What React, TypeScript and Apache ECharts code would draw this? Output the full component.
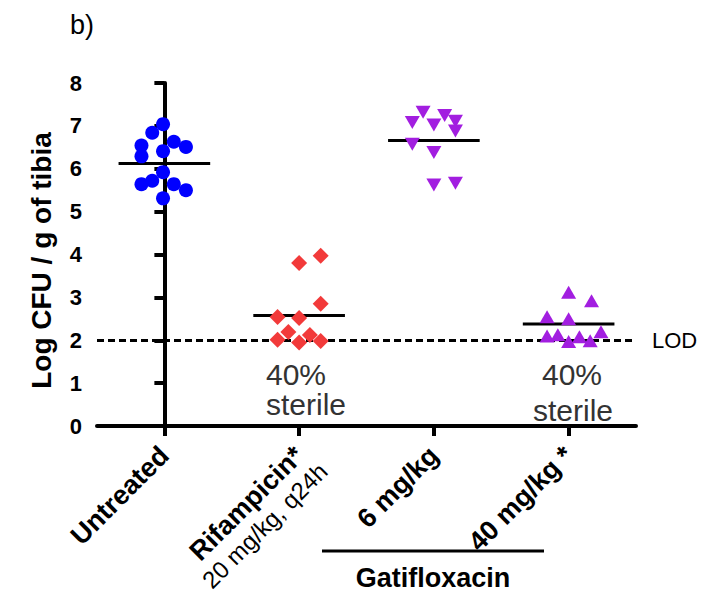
import React, { useEffect, useRef } from "react";
import * as echarts from "echarts";

// ---- Data ----
const categories = ["Untreated", "Rifampicin", "6 mg/kg", "40 mg/kg"];
const categoryLabels = ["Untreated", "Rifampicin*", "6 mg/kg", "40 mg/kg *"];
const categorySubLabels = ["", "20 mg/kg, q24h", "", ""];
const yTicks = [0, 1, 2, 3, 4, 5, 6, 7, 8];

// x = category index + horizontal jitter, y = log CFU
const untreatedX = [-0.01, -0.09, 0.07, 0.16, -0.17, -0.01, -0.17, -0.01, -0.09, -0.17, 0.07, 0.16, -0.01];
const untreatedY = [7.04, 6.84, 6.63, 6.51, 6.54, 6.41, 6.29, 5.92, 5.72, 5.64, 5.64, 5.5, 5.31];

const rifampicinX = [1.0, 1.16, 1.16, 0.84, 1.0, 0.92, 1.08, 0.84, 1.0, 1.16];
const rifampicinY = [3.8, 3.97, 2.85, 2.54, 2.52, 2.19, 2.12, 2.01, 1.95, 1.98];

const gati6X = [1.92, 2.08, 1.84, 2.0, 2.16, 2.16, 1.84, 2.0, 2.0, 2.16];
const gati6Y = [7.32, 7.24, 7.08, 7.02, 7.11, 6.88, 6.57, 6.38, 5.62, 5.66];

const gati40X = [3.0, 3.17, 2.84, 3.0, 3.24, 2.84, 2.92, 3.0, 3.08, 3.16];
const gati40Y = [3.12, 2.92, 2.55, 2.5, 2.2, 2.1, 2.13, 1.97, 2.08, 1.99];

const groupMeans = [6.12, 2.58, 6.66, 2.38];
const lodValue = 2;

const FONT = "'Liberation Sans', Arial, Helvetica, sans-serif";

const zip = (xs: number[], ys: number[]) => xs.map((x, i) => [x, ys[i]]);

export default function App() {
  const ref = useRef<HTMLDivElement>(null);

  useEffect(() => {
    if (!ref.current) return;
    const chart = echarts.init(ref.current, null, { renderer: "svg" });

    const option: any = {
      animation: false,
      backgroundColor: "#ffffff",
      textStyle: { fontFamily: FONT },
      grid: { left: 97, right: 71, top: 83, bottom: 168, containLabel: false, outerBoundsMode: "none" },
      xAxis: [
        {
          type: "category",
          data: categories,
          position: "bottom",
          boundaryGap: true,
          axisLine: { show: true, lineStyle: { color: "#000", width: 4 } },
          axisTick: { show: true, alignWithLabel: true, length: 10, lineStyle: { color: "#000", width: 4 } },
          splitLine: { show: false },
          axisLabel: {
            interval: 0,
            rotate: 45,
            margin: 25,
            color: "#000",
            fontFamily: FONT,
            fontSize: 27,
            fontWeight: "bold",
            lineHeight: 28,
            formatter: (v: string, idx: number) => categoryLabels[idx],
          },
        },
        { type: "value", min: -0.5, max: 3.5, show: false, position: "top" },
        {
          type: "category",
          data: categories,
          position: "bottom",
          offset: 0,
          boundaryGap: true,
          axisLine: { show: false },
          axisTick: { show: false },
          splitLine: { show: false },
          axisLabel: {
            interval: 0,
            rotate: 45,
            margin: 17,
            color: "#000",
            fontFamily: FONT,
            formatter: (v: string, idx: number) => (categorySubLabels[idx] ? `{n|${categorySubLabels[idx]}}` : ""),
            rich: {
              n: { fontSize: 24, fontWeight: "normal", color: "#000", fontFamily: FONT, lineHeight: 26, padding: [68, 0, 0, 0] },
            },
          },
        },
      ],
      yAxis: {
        type: "value",
        min: yTicks[0],
        max: yTicks[yTicks.length - 1],
        interval: 1,
        axisLine: { show: true, lineStyle: { color: "#000", width: 4 } },
        axisTick: { show: true, length: 10, lineStyle: { color: "#000", width: 4 } },
        splitLine: { show: false },
        axisLabel: { fontSize: 22, fontWeight: "bold", color: "#000", margin: 15, fontFamily: FONT },
        name: "Log CFU / g of tibia",
        nameLocation: "middle",
        nameGap: 42,
        nameTextStyle: { fontSize: 28, fontWeight: "bold", color: "#000", fontFamily: FONT, padding: [0, 12, 0, 0] },
      },
      series: [
        {
          type: "custom",
          xAxisIndex: 1,
          yAxisIndex: 0,
          z: 2,
          data: groupMeans.map((m, i) => [i, m]),
          renderItem: (params: any, api: any) => {
            const i = api.value(0);
            const m = api.value(1);
            const p1 = api.coord([i - 0.34, m]);
            const p2 = api.coord([i + 0.34, m]);
            return {
              type: "line",
              shape: { x1: p1[0], y1: p1[1], x2: p2[0], y2: p2[1] },
              style: { stroke: "#000", lineWidth: 3 },
            };
          },
          markLine: {
            silent: true,
            symbol: "none",
            data: [{ yAxis: lodValue }],
            lineStyle: { color: "#000", width: 3, type: [7, 4] },
            label: {
              show: true,
              position: "end",
              formatter: "LOD",
              fontSize: 22,
              color: "#000",
              fontFamily: FONT,
              distance: 16,
            },
          },
        },
        {
          type: "scatter",
          name: categories[0],
          xAxisIndex: 1,
          yAxisIndex: 0,
          z: 5,
          symbol: "circle",
          symbolSize: 14,
          itemStyle: { color: "#0000ff", opacity: 1 },
          data: zip(untreatedX, untreatedY),
        },
        {
          type: "scatter",
          name: categories[1],
          xAxisIndex: 1,
          yAxisIndex: 0,
          z: 5,
          symbol: "diamond",
          symbolSize: [16, 16],
          itemStyle: { color: "#f23a3a", opacity: 1 },
          data: zip(rifampicinX, rifampicinY),
        },
        {
          type: "scatter",
          name: categories[2],
          xAxisIndex: 1,
          yAxisIndex: 0,
          z: 5,
          symbol: "triangle",
          symbolRotate: 180,
          symbolSize: [15, 13],
          itemStyle: { color: "#a21ee0", opacity: 1 },
          data: zip(gati6X, gati6Y),
        },
        {
          type: "scatter",
          name: categories[3],
          xAxisIndex: 1,
          yAxisIndex: 0,
          z: 5,
          symbol: "triangle",
          symbolSize: [15, 13],
          itemStyle: { color: "#a21ee0", opacity: 1 },
          data: zip(gati40X, gati40Y),
        },
      ],
      graphic: [
        {
          type: "text",
          left: 70,
          top: 11,
          style: { text: "b)", fontSize: 27, fill: "#000", fontFamily: FONT },
        },
        {
          type: "text",
          x: 266,
          y: 374,
          style: { text: "40%", fontSize: 30, fill: "#333", fontFamily: FONT, align: "left", verticalAlign: "middle" },
        },
        {
          type: "text",
          x: 266,
          y: 404,
          style: { text: "sterile", fontSize: 30, fill: "#333", fontFamily: FONT, align: "left", verticalAlign: "middle" },
        },
        {
          type: "text",
          x: 572,
          y: 374,
          style: { text: "40%", fontSize: 30, fill: "#333", fontFamily: FONT, align: "center", verticalAlign: "middle" },
        },
        {
          type: "text",
          x: 573,
          y: 410,
          style: { text: "sterile", fontSize: 30, fill: "#333", fontFamily: FONT, align: "center", verticalAlign: "middle" },
        },
        {
          type: "line",
          shape: { x1: 322, y1: 551, x2: 544, y2: 551 },
          style: { stroke: "#000", lineWidth: 3 },
        },
        {
          type: "text",
          x: 433,
          y: 578,
          style: { text: "Gatifloxacin", fontSize: 27, fontWeight: "bold", fill: "#000", fontFamily: FONT, align: "center", verticalAlign: "middle" },
        },
      ],
    };

    chart.setOption(option);
    return () => chart.dispose();
  }, []);

  return (
    <div
      ref={ref}
      style={{ position: "fixed", left: 0, top: 0, width: 707, height: 594, background: "#fff" }}
    />
  );
}
